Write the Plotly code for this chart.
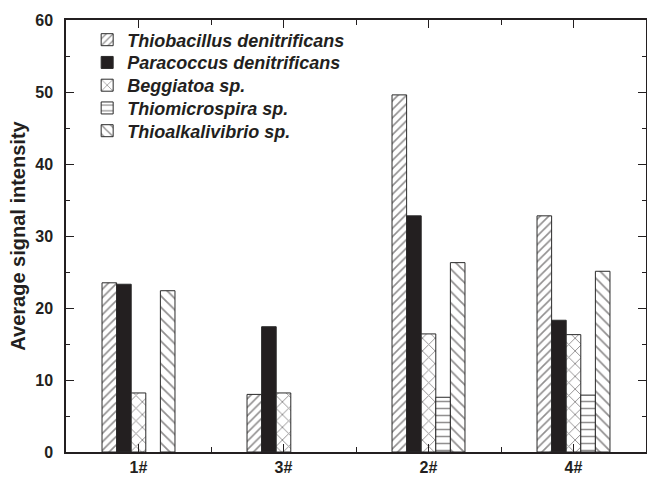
import plotly.graph_objects as go

categories = ["1#", "3#", "2#", "4#"]
species = ["Thiobacillus denitrificans", "Paracoccus denitrificans", "Beggiatoa sp.",
           "Thiomicrospira sp.", "Thioalkalivibrio sp."]
thiobacillus = [23.5, 8.0, 49.6, 32.8]
paracoccus = [23.3, 17.4, 32.8, 18.3]
beggiatoa = [8.2, 8.2, 16.4, 16.3]
thiomicrospira = [None, None, 7.6, 7.9]
thioalkalivibrio = [22.4, None, 26.3, 25.1]
y_ticks = [0, 10, 20, 30, 40, 50, 60]

series = [thiobacillus, paracoccus, beggiatoa, thiomicrospira, thioalkalivibrio]
patterns = [dict(shape="/", size=6, solidity=0.27, fgcolor="#231f20", bgcolor="white", fillmode="overlay"),
            None,
            dict(shape="x", size=9, solidity=0.2, fgcolor="#231f20", bgcolor="white", fillmode="overlay"),
            dict(shape="-", size=7, solidity=0.22, fgcolor="#231f20", bgcolor="white", fillmode="overlay"),
            dict(shape="\\", size=8, solidity=0.22, fgcolor="#231f20", bgcolor="white", fillmode="overlay")]

xpos = list(range(len(categories)))
font = "Liberation Sans, Arial, sans-serif"

legend_ids = ["legend", "legend2", "legend3", "legend4", "legend5"]

fig = go.Figure()
for name, vals, pat, lg in zip(species, series, patterns, legend_ids):
    marker = dict(color="#231f20" if pat is None else "white",
                  line=dict(color="#2a2a2a", width=1))
    if pat is not None:
        marker["pattern"] = pat
    fig.add_trace(go.Bar(x=xpos, y=vals, name=name, marker=marker, legend=lg, showlegend=True))

legend_font = dict(family=font, size=18, weight="bold", style="italic", color="#231f20")
legends = {}
for i, lg in enumerate(legend_ids):
    legends[lg] = dict(x=0.0365, y=0.9537 - i * 0.05266, xanchor="left", yanchor="middle",
                       bgcolor="rgba(0,0,0,0)", borderwidth=0, font=legend_font, itemwidth=30)

fig.update_layout(
    width=647, height=477,
    margin=dict(l=66, r=1, t=20, b=25),
    paper_bgcolor="white", plot_bgcolor="white",
    showlegend=True,
    barmode="group", bargap=0.497, bargroupgap=0,
    font=dict(family=font, color="#231f20"),
    xaxis=dict(range=[-0.5, 3.5], tickvals=xpos, ticktext=categories, automargin=False,
               showline=True, linecolor="#231f20", linewidth=1.5, mirror="ticks",
               ticks="inside", ticklen=8, tickwidth=1.3, tickcolor="#231f20",
               minor=dict(tickvals=[0.5, 1.5, 2.5], ticks="inside", ticklen=5, tickwidth=1.3, tickcolor="#231f20"),
               tickfont=dict(family=font, size=16, weight="bold", color="#231f20"),
               showgrid=False, zeroline=False, ticklabelstandoff=0),
    yaxis=dict(range=[0, 60], tickvals=y_ticks, automargin=False,
               showline=True, linecolor="#231f20", linewidth=1.5, mirror="ticks",
               ticks="inside", ticklen=8, tickwidth=1.3, tickcolor="#231f20",
               minor=dict(dtick=5, ticks="inside", ticklen=4, tickwidth=1.3, tickcolor="#231f20"),
               tickfont=dict(family=font, size=16, weight="bold", color="#231f20"),
               showgrid=False, zeroline=False, ticklabelstandoff=8,
               title=dict(text="Average signal intensity", standoff=4,
                          font=dict(family=font, size=20, weight="bold", color="#231f20"))),
    **legends,
)

fig.write_html("out.html")
